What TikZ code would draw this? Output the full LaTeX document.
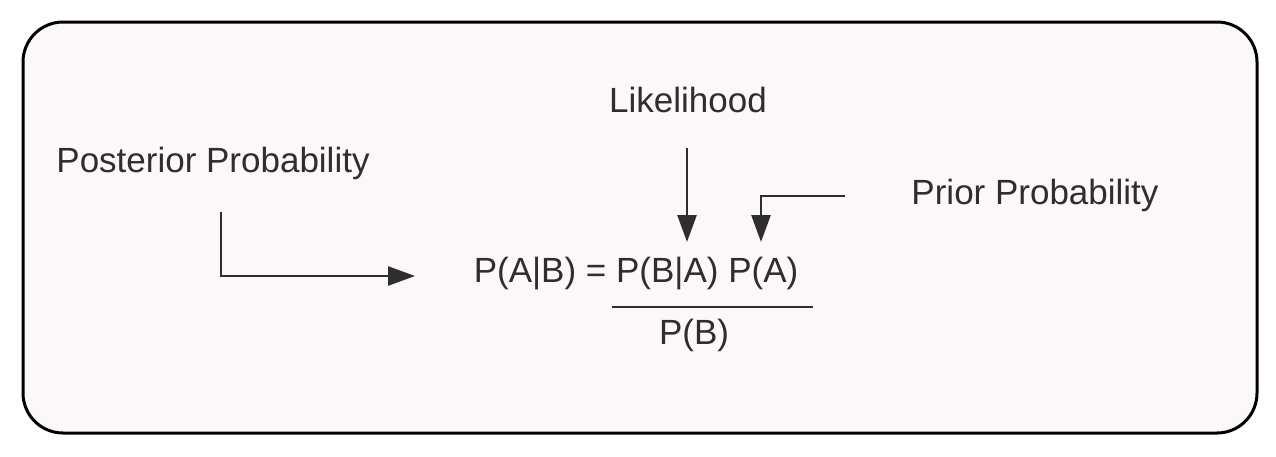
\documentclass[tikz,border=0pt]{standalone}
\usepackage{fontspec}
\setmainfont{Liberation Sans}
\usetikzlibrary{arrows.meta}
\definecolor{boxfill}{HTML}{FCF7F8}
\definecolor{ink}{HTML}{2E2E2E}
\begin{document}
\begin{tikzpicture}[x=1pt,y=-1pt,
  lbl/.style={inner sep=0pt,font=\fontsize{35}{41}\selectfont,text=ink},
  conn/.style={draw=ink,line width=2.6pt,-{Triangle[length=27pt,width=19pt]}}]
\useasboundingbox (0,0) rectangle (1276,456);
\draw[line width=3pt,fill=boxfill,rounded corners=40pt] (23,22) rectangle (1257,433);
\node[lbl] (post) at (213,163) {Posterior Probability};
\node[lbl] (like) at (688,100) {Likelihood};
\node[lbl] (prior) at (1035,195) {Prior Probability};
\node[lbl] (eq) at (636,274) {P(A|B) = P(B|A) P(A)};
\node[lbl] (den) at (694,335) {P(B)};
\coordinate (fl) at (612,307);
\coordinate (fr) at (813,307);
\draw[ink,line width=2.6pt] (fl) -- (fr);
\coordinate (ps) at (221,212);
\coordinate (pc) at (221,276);
\coordinate (pe) at (415,276);
\coordinate (ls) at (687,148);
\coordinate (le) at (687,242);
\coordinate (rs) at (845,196);
\coordinate (rc) at (761,196);
\coordinate (re) at (761,242);
\draw[conn] (ps) -- (pc) -- (pe);
\draw[conn] (ls) -- (le);
\draw[conn] (rs) -- (rc) -- (re);
\end{tikzpicture}
\end{document}
